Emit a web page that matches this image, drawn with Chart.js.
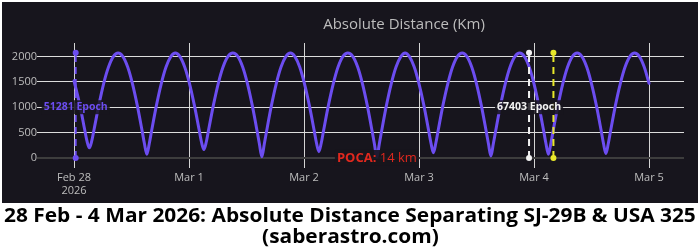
<!DOCTYPE html>
<html><head><meta charset="utf-8">
<script src="https://cdn.jsdelivr.net/npm/chart.js@4"></script>
<style>
html,body{margin:0;padding:0;background:#fff;width:700px;height:251px;overflow:hidden;}
#wrap{position:absolute;left:0;top:0;width:700px;height:205px;}
#cap{position:absolute;left:0;top:205px;width:700px;text-align:center;font-family:'Open Sans',sans-serif;font-weight:700;font-size:19px;line-height:21px;color:#000;}
#cap div{white-space:nowrap;}
#cap span{display:inline-block;white-space:nowrap;transform-origin:center;}
</style></head>
<body>
<div id="wrap"><canvas id="c" width="700" height="205"></canvas></div>
<div id="cap"><div><span id="l1">28 Feb - 4 Mar 2026: Absolute Distance Separating SJ-29B &amp; USA 325</span></div><div><span id="l2">(saberastro.com)</span></div></div>
<script>
// hours since 28 Feb 2026 00:00 UTC
const hours = [0, 1.2, 2.2, 2.7, 3.2, 3.7, 4.2, 5.2, 6.2, 7.2, 8.2, 9.2,
10.2, 11.2, 12.2, 13.2, 14.2, 14.7, 15.2, 15.7, 16.2, 17.2, 18.2, 19.2, 20.2, 21.15,
22.1, 23.1, 24.1, 25.1, 26.1, 26.6, 27.1, 27.6, 28.1, 29.1, 30.1, 31.1, 32.1, 33.15,
34.2, 35.2, 36.2, 37.2, 38.2, 38.7, 39.2, 39.7, 40.2, 41.2, 42.2, 43.2, 44.2, 45.15,
46.1, 47.1, 48.1, 49.1, 50.1, 50.6, 51.1, 51.6, 52.1, 53.1, 54.1, 55.1, 56.1, 57.15,
58.2, 59.2, 60.2, 61.2, 62.2, 62.7, 63.2, 63.7, 64.2, 65.2, 66.2, 67.2, 68.2, 69.1,
70, 71, 72, 73, 74, 74.5, 75, 75.5, 76, 77, 78, 79, 80, 81,
82, 83, 84, 85, 86, 86.5, 87, 87.5, 88, 89, 90, 91, 92, 93,
94, 95, 96, 97, 98, 98.5, 99, 99.5, 100, 101, 102, 103, 104, 105,
106, 107, 108, 109, 110, 110.5, 111, 111.5, 112, 113, 114, 115, 116, 117,
118, 119, 120];
// absolute distance, km
const distance = [1520, 1050, 570, 335, 200, 335, 570, 1050, 1470, 1790, 1995, 2065,
1995, 1790, 1460, 1035, 540, 280, 75, 280, 540, 1035, 1460, 1790, 1995, 2065,
1995, 1790, 1465, 1045, 560, 315, 165, 315, 560, 1045, 1465, 1790, 1995, 2065,
1995, 1790, 1460, 1035, 535, 270, 25, 270, 535, 1035, 1460, 1790, 1995, 2065,
1995, 1790, 1460, 1040, 550, 295, 125, 295, 550, 1040, 1460, 1790, 1995, 2065,
1995, 1790, 1460, 1035, 535, 270, 14, 270, 535, 1035, 1460, 1790, 1995, 2065,
1995, 1790, 1460, 1040, 545, 290, 105, 290, 545, 1040, 1460, 1790, 1995, 2065,
1995, 1790, 1460, 1035, 535, 275, 40, 275, 535, 1035, 1460, 1790, 1995, 2065,
1995, 1790, 1460, 1035, 540, 280, 75, 280, 540, 1035, 1460, 1790, 1995, 2065,
1995, 1790, 1460, 1040, 545, 285, 90, 285, 545, 1040, 1460, 1790, 1995, 2065,
1995, 1790, 1470];

const xTickHours = [0, 24, 48, 72, 96, 120];
const xTickLabels = [["Feb 28", "2026"], "Mar 1", "Mar 2", "Mar 3", "Mar 4", "Mar 5"];
const yTickValues = [0, 500, 1000, 1500, 2000];
const yTickLabels = ["0", "500", "1000", "1500", "2000"];

const epochHours = [0.35, 94.96, 100.05];
const epochTopKm = [2070, 2070, 2070];
const epochNames = ["51281 Epoch", "67403 Epoch", ""];
const epochLabelKm = 1000;

const pocaHour = 63.2;
const pocaKm = 14;
const chartTitle = "Absolute Distance (Km)";

// styles
const PURPLE = '#6c4df0';
const epochColors = [PURPLE, '#f2f2f2', '#e8e82a'];
const BG = '#17151d';

const datasets = [{
  type: 'line',
  data: hours.map((h, i) => ({x: h, y: distance[i]})),
  borderColor: PURPLE,
  borderWidth: 3,
  pointRadius: 0,
  cubicInterpolationMode: 'monotone',
  borderJoinStyle: 'round',
  borderCapStyle: 'round',
  order: 2
}];
epochHours.forEach((h, i) => {
  datasets.push({
    type: 'line',
    data: [{x: h, y: 0}, {x: h, y: epochTopKm[i]}],
    borderColor: epochColors[i],
    borderWidth: 2,
    borderDash: [7, 5],
    pointRadius: 3,
    pointBackgroundColor: epochColors[i],
    pointBorderWidth: 0,
    order: 1
  });
});

const deco = {
  id: 'deco',
  beforeDraw(chart) {
    const ctx = chart.ctx;
    ctx.save();
    ctx.fillStyle = BG;
    ctx.fillRect(2, 2, 696, 201);
    ctx.fillStyle = '#bdbdbd';
    ctx.font = '15px "Open Sans"';
    ctx.textAlign = 'center';
    ctx.textBaseline = 'middle';
    ctx.fillText(chartTitle, 404, 25);
    ctx.restore();
  },
  afterDatasetsDraw(chart) {
    const ctx = chart.ctx, xs = chart.scales.x, ys = chart.scales.y;
    ctx.save();
    ctx.textBaseline = 'middle';
    ctx.textAlign = 'left';
    epochNames.forEach((name, i) => {
      if (!name) return;
      ctx.font = 'bold 10.5px "Open Sans"';
      const w = ctx.measureText(name).width;
      const x = xs.getPixelForValue(epochHours[i]);
      const y = ys.getPixelForValue(epochLabelKm);
      ctx.fillStyle = 'rgba(23,21,29,0.85)';
      ctx.fillRect(x - w / 2 - 2, y - 7, w + 4, 14);
      ctx.fillStyle = epochColors[i];
      ctx.fillText(name, x - w / 2, y);
    });
    const a = 'POCA:', b = ' ' + pocaKm + ' km';
    ctx.font = 'bold 13px "Open Sans"';
    const wa = ctx.measureText(a).width;
    ctx.font = '13px "Open Sans"';
    const wb = ctx.measureText(b).width;
    const px = xs.getPixelForValue(pocaHour), py = ys.getPixelForValue(0);
    const left = px - (wa + wb) / 2;
    ctx.fillStyle = 'rgba(23,21,29,0.9)';
    ctx.fillRect(left - 2, py - 8, wa + wb + 4, 16);
    ctx.fillStyle = '#e0281e';
    ctx.font = 'bold 13px "Open Sans"';
    ctx.fillText(a, left, py);
    ctx.font = '13px "Open Sans"';
    ctx.fillText(b, left + wa, py);
    ctx.restore();
  }
};

new Chart(document.getElementById('c'), {
  data: {datasets},
  options: {
    responsive: false,
    animation: false,
    devicePixelRatio: 1,
    layout: {padding: {left: 0, right: 16, top: 43, bottom: 0}},
    plugins: {legend: {display: false}, tooltip: {enabled: false}, title: {display: false}},
    scales: {
      x: {
        type: 'linear',
        min: -7.1, max: 127.3,
        afterBuildTicks: s => { s.ticks = xTickHours.map(v => ({value: v})); },
        afterFit: s => { s.height = 37; },
        border: {display: false},
        grid: {color: '#d4d4d4', lineWidth: 1, drawTicks: false},
        ticks: {
          autoSkip: false, maxRotation: 0, padding: 3,
          color: '#bdbdbd', font: {family: 'Open Sans', size: 11}, lineHeight: 1.2,
          callback: v => xTickLabels[xTickHours.indexOf(v)]
        }
      },
      y: {
        type: 'linear',
        min: -197, max: 2264,
        afterBuildTicks: s => { s.ticks = yTickValues.map(v => ({value: v})); },
        afterFit: s => { s.width = 40; },
        border: {display: false},
        grid: {
          color: c => (c.tick && c.tick.value === 0) ? '#3d3d3d' : '#dcdcdc',
          lineWidth: c => (c.tick && c.tick.value === 0) ? 2 : 1,
          drawTicks: true, tickLength: 3
        },
        ticks: {
          padding: 0, color: '#bdbdbd', font: {family: 'Open Sans', size: 11},
          callback: v => yTickLabels[yTickValues.indexOf(v)]
        }
      }
    }
  },
  plugins: [deco]
});

function fitCaption() {
  const l1 = document.getElementById('l1'), l2 = document.getElementById('l2');
  const k = 692 / l1.offsetWidth;
  l1.style.transform = 'scaleX(' + k + ')';
  l2.style.transform = 'scaleX(' + k + ')';
}
fitCaption();
if (document.fonts && document.fonts.ready) document.fonts.ready.then(fitCaption);
</script>
</body></html>
